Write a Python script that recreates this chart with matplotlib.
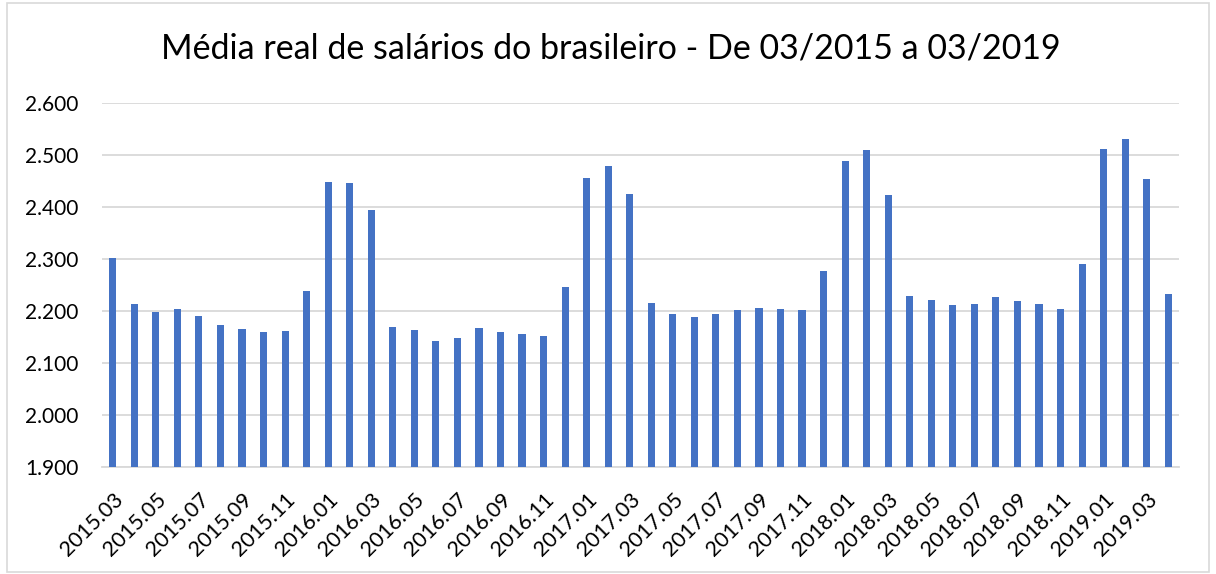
import matplotlib.pyplot as plt
from matplotlib.patches import Rectangle

BLUE = "#4472C4"
GRID = "#D9D9D9"

# monthly periods 2015.03 .. 2019.04
months = [f"{y}.{m:02d}" for y in range(2015, 2020) for m in range(1, 13)]
months = months[months.index("2015.03"):months.index("2019.04") + 1]

salaries = [
    2302, 2213, 2199, 2204, 2190, 2174, 2166, 2160, 2162, 2238,
    2449, 2447, 2394, 2169, 2163, 2142, 2149, 2168, 2160, 2155,
    2151, 2246, 2456, 2478, 2425, 2216, 2195, 2188, 2195, 2202,
    2206, 2203, 2202, 2277, 2488, 2510, 2424, 2228, 2221, 2211,
    2213, 2227, 2219, 2213, 2204, 2290, 2511, 2531, 2453, 2233,
]

y_ticks = [1900, 2000, 2100, 2200, 2300, 2400, 2500, 2600]


def fmt(v):
    return f"{v:,.0f}".replace(",", ".")


plt.rcParams["font.family"] = ["Lato", "DejaVu Sans"]

fig = plt.figure(figsize=(12.16, 5.74), dpi=100, facecolor="white")
ax = fig.add_axes([102 / 1216, 107 / 574, 1077 / 1216, 364 / 574])

x = list(range(len(months)))
ax.bar(x, salaries, width=0.33, color=BLUE, zorder=3)

ax.set_xlim(-0.5, len(months) - 0.5)
ax.set_ylim(y_ticks[0], y_ticks[-1])
ax.set_yticks(y_ticks)
ax.set_yticklabels([fmt(v) for v in y_ticks], fontsize=15)
ax.set_xticks(x[::2])
ax.set_xticklabels(months[::2], rotation=45, ha="right", va="top",
                   rotation_mode="anchor", fontsize=15.5)
ax.tick_params(axis="both", length=0)
ax.tick_params(axis="y", pad=17)
ax.tick_params(axis="x", pad=16)

ax.grid(axis="y", color=GRID, lw=1.3, zorder=0)
for side in ["top", "right", "left"]:
    ax.spines[side].set_visible(False)
ax.spines["bottom"].set_color(GRID)
ax.spines["bottom"].set_linewidth(1.3)

fig.text(611 / 1216, 1 - 48 / 574,
         "Média real de salários do brasileiro - De 03/2015 a 03/2019",
         ha="center", va="center", fontsize=24.5)

fig.patches.append(Rectangle((7 / 1216, 0.004), 1 - 14 / 1216, 0.99,
                             transform=fig.transFigure, fill=False,
                             edgecolor=GRID, lw=1.2))

fig.savefig("out.png", dpi=100, facecolor="white")
